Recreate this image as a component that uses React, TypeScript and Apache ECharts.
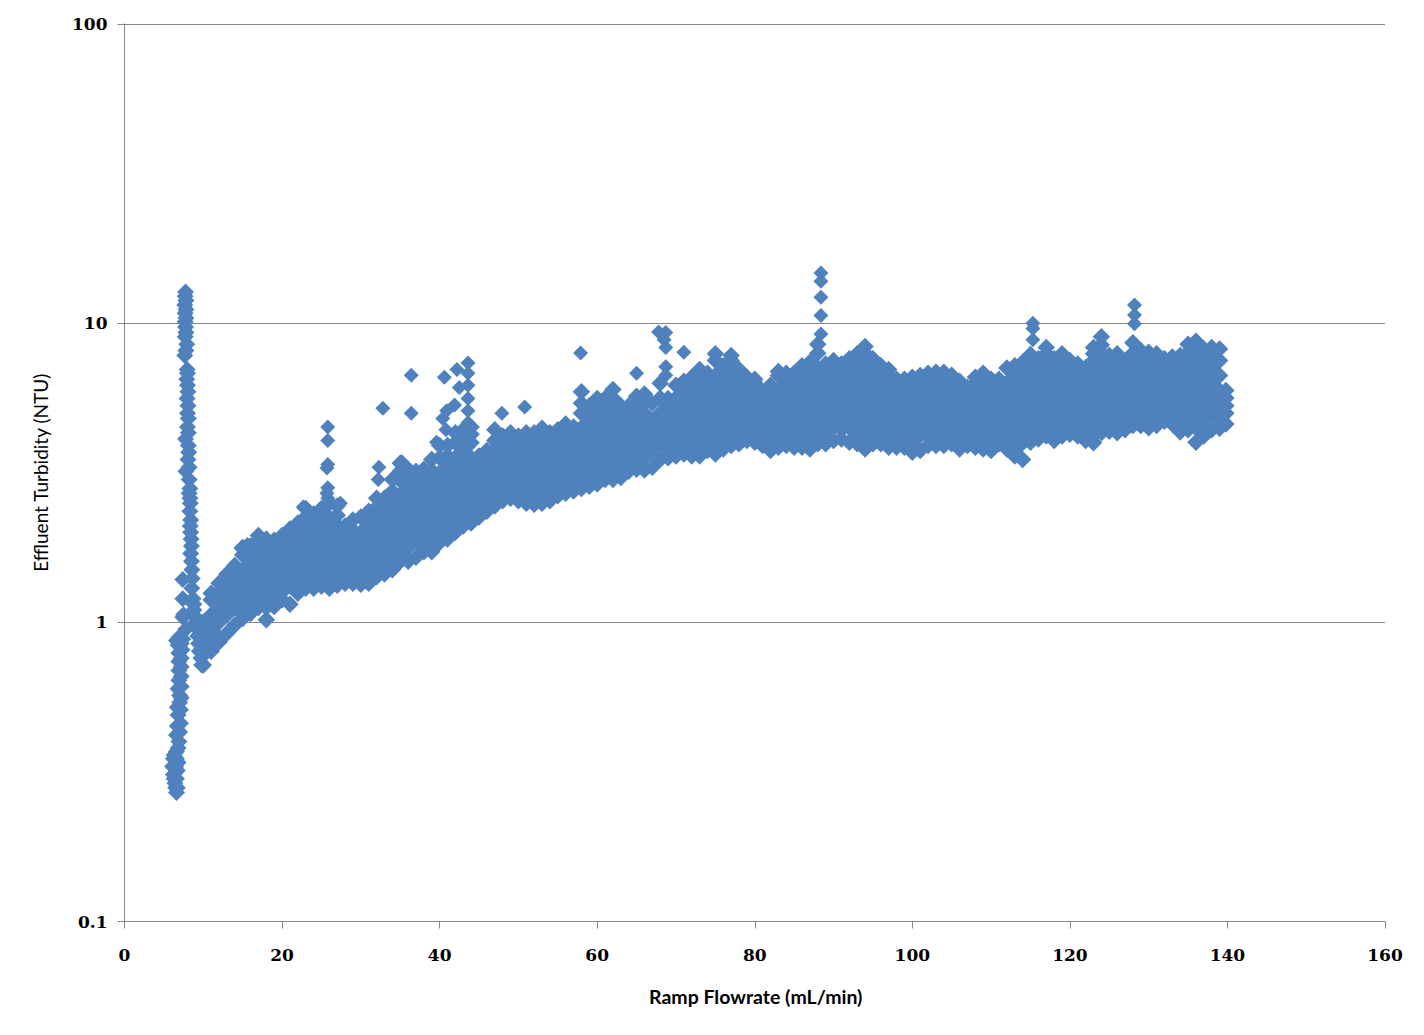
import React, { useEffect, useRef } from "react";
import * as echarts from "echarts";

const xTicks = [0, 20, 40, 60, 80, 100, 120, 140, 160];
const xAxisTitle = "Ramp Flowrate (mL/min)";
const yAxisTitle = "Effluent Turbidity (NTU)";

// Start-up leg: [flowrate, turbidity]
const riseLow: number[][] = [
  [6.6,.27],[6.5,.28],[6.4,.29],[6.7,.28],[6.3,.3],[6.6,.3],[6.2,.31],[6.7,.32],[6.1,.33],[6.5,.33],[6.2,.35],[6.6,.35],[6.8,.34],[6.3,.36],[6.6,.37],
  [6.8,.38],[6.9,.4],[6.6,.42],[7,.43],[6.7,.45],[7.1,.46],[6.8,.49],[6.7,.52],[7.1,.51],[7,.54],[7,.57],[7.2,.56],[6.8,.6],[7.2,.61],[6.9,.64],[7.2,.66],[6.9,.69],[7.2,.71],[6.9,.74],[7.2,.76],[6.9,.79],[7.3,.81],[6.8,.84],[7.2,.85],[6.6,.87],[7.4,.88],[6.9,.89],
  [7.4,1.04],[7.5,1.06],[7.4,1.2],[7.4,1.39],[7.8,.95],
];

// Spike down from the peak
const spike: number[][] = [
  [7.75,12.7],[7.7,12.3],[7.8,11.9],[7.65,11.5],[7.8,11.1],[7.7,10.8],[7.8,10.4],[7.7,10.1],[7.75,9.7],[7.8,9.3],[7.7,9],[7.9,8.5],[7.8,8.1],[7.65,7.8],
  [7.95,7],[8,6.8],[7.9,6.5],[8,6.2],[8.05,5.9],[7.95,5.6],[8.05,5.3],[8,5],[8.1,4.8],[8,4.5],[8.1,4.3],[7.75,4.1],[8.1,3.9],[8.15,3.7],[8.05,3.5],[8.2,3.3],[7.8,3.2],[8.2,3],[8.3,2.8],[8.2,2.7],[8.3,2.6],[8.35,2.5],[8.3,2.35],[8.4,2.2],[8.35,2.1],[8.4,2],[8.45,1.9],[8.5,1.8],[8.4,1.7],[8.5,1.6],[8.55,1.5],[8.6,1.4],[8.55,1.3],[8.7,1.2],[8.8,1.15],[8.8,1.1],[8.9,1.05],[9,1],[9.1,.96],[9.3,.9],[9.4,.85],[9.5,.8],[9.7,.76],[9.8,.72],
];

// Main band: each row is a flowrate followed by the turbidity readings at it
const band: number[][] = [
  [10,.72,.79,.89,1.0],
  [11,.8,.84,.94,1.06,1.19,1.25],
  [12,.86,.89,1,1.12,1.26,1.35],
  [13,.92,1.06,1.19,1.33,1.45],
  [14,.98,1.12,1.26,1.41,1.55],
  [15,1.03,1.06,1.19,1.33,1.5,1.68,1.78],
  [16,1.07,1.12,1.26,1.41,1.58,1.8],
  [17,1.12,1.19,1.33,1.5,1.68,1.88,1.95],
  [18,1.02,1.12,1.26,1.41,1.58,1.78,1.9],
  [19,1.13,1.19,1.33,1.5,1.68,1.88],
  [20,1.19,1.26,1.41,1.58,1.78,1.95],
  [21,1.15,1.33,1.5,1.68,1.88,2.05],
  [22,1.25,1.41,1.58,1.78,2,2.15],
  [23,1.3,1.33,1.5,1.68,1.88,2.11,2.25,2.4],
  [24,1.3,1.41,1.58,1.78,2,2.15,2.3],
  [25,1.32,1.5,1.68,1.88,2.11,2.25,2.4],
  [26,1.3,1.41,1.58,1.78,2,2.24,2.5],
  [27,1.33,1.5,1.68,1.88,2.11,2.28,2.45],
  [28,1.35,1.41,1.58,1.78,2,2.1],
  [29,1.35,1.5,1.68,1.88,2.03,2.2],
  [30,1.34,1.41,1.58,1.78,2,2.25],
  [31,1.35,1.5,1.68,1.88,2.11,2.35],
  [32,1.42,1.58,1.78,2,2.24,2.42,2.6],
  [33,1.45,1.5,1.68,1.88,2.11,2.37,2.6],
  [34,1.5,1.58,1.78,2,2.24,2.51,2.74,3],
  [35,1.6,1.68,1.88,2.11,2.37,2.66,2.98,3.2,3.4],
  [36,1.6,1.78,2,2.24,2.51,2.82,3.05,3.25],
  [37,1.65,1.88,2.11,2.37,2.66,2.98,3.2],
  [38,1.72,1.78,2,2.24,2.51,2.82,3.03,3.25],
  [39,1.72,1.88,2.11,2.37,2.66,2.98,3.22,3.5],
  [40,1.85,2,2.24,2.51,2.82,3.16,3.55,3.9],
  [41,1.9,2.11,2.37,2.66,2.98,3.35,3.6,3.9],
  [42,2,2.24,2.51,2.82,3.16,3.55,3.98,4.3],
  [43,2.1,2.37,2.66,2.98,3.35,3.76,4.05,4.4],
  [44,2.15,2.24,2.51,2.82,3.16,3.55,3.98,4.25,4.5],
  [45,2.25,2.37,2.66,2.98,3.35,3.6],
  [46,2.35,2.51,2.82,3.16,3.55,3.75],
  [47,2.45,2.66,2.98,3.35,3.76,4.05,4.4],
  [48,2.55,2.82,3.16,3.55,3.98,4.2],
  [49,2.6,2.66,2.98,3.35,3.76,4.05,4.3],
  [50,2.55,2.82,3.16,3.55,3.98,4.2],
  [51,2.5,2.66,2.98,3.35,3.76,4.05,4.3],
  [52,2.48,2.82,3.16,3.55,3.98,4.3],
  [53,2.5,2.66,2.98,3.35,3.76,4.22,4.45],
  [54,2.55,2.82,3.16,3.55,3.98,4.3],
  [55,2.65,2.98,3.35,3.76,4.07,4.4],
  [56,2.7,2.82,3.16,3.55,3.98,4.27,4.6],
  [57,2.75,2.98,3.35,3.76,4.22,4.5],
  [58,2.8,3.16,3.55,3.98,4.47,5,5.4,5.9],
  [59,2.85,2.98,3.35,3.76,4.22,4.73,5.3],
  [60,2.9,3.16,3.55,3.98,4.47,5,5.6],
  [61,3,3.35,3.76,4.22,4.73,5.31,5.6],
  [62,3,3.16,3.55,3.98,4.47,5,5.62,6],
  [63,3.05,3.35,3.76,4.22,4.73,5.3],
  [64,3.2,3.55,3.98,4.47,5,5.3],
  [65,3.25,3.35,3.76,4.22,4.73,5.31,5.7],
  [66,3.23,3.55,3.98,4.47,5,5.4,5.8],
  [67,3.3,3.76,4.22,4.73,5.4],
  [68,3.5,3.98,4.47,5,5.62,6.3],
  [69,3.55,3.76,4.22,4.73,5.31,5.6],
  [70,3.6,3.98,4.47,5,5.62,6.2],
  [71,3.65,3.76,4.22,4.73,5.31,5.96,6.4],
  [72,3.6,3.98,4.47,5,5.62,6.31,6.6],
  [73,3.6,3.76,4.22,4.73,5.31,5.96,6.68,7],
  [74,3.75,3.98,4.47,5,5.62,6.31,6.8],
  [75,3.65,3.76,4.22,4.73,5.31,5.96,6.68,7.5,7.9],
  [76,3.8,3.98,4.47,5,5.62,6.31,7.08,7.2],
  [77,3.9,4.22,4.73,5.31,5.96,6.68,7.5,7.8],
  [78,3.95,4.47,5,5.62,6.31,7],
  [79,4.05,4.22,4.73,5.31,5.96,6.6],
  [80,4,4.47,5,5.62,6.31,6.5],
  [81,3.9,4.22,4.73,5.31,5.9],
  [82,3.75,3.98,4.47,5,5.62,6.2],
  [83,3.85,4.22,4.73,5.31,5.96,6.68,6.9],
  [84,3.9,3.98,4.47,5,5.62,6.31,6.8],
  [85,3.85,4.22,4.73,5.31,5.96,6.68,6.8],
  [86,3.85,3.98,4.47,5,5.62,6.31,7.08,7.2],
  [87,3.8,4.22,4.73,5.31,5.96,6.68,7.4],
  [88,3.95,4.47,5,5.62,6.31,7.08,7.94,8.5],
  [89,3.95,4.22,4.73,5.31,5.96,6.68,7.3],
  [90,4.05,4.47,5,5.62,6.31,7.08,7.5],
  [91,4.1,4.4,4.73,5.31,5.96,6.68,7.3],
  [92,4,4.47,5,5.62,6.31,7.08,7.6],
  [93,3.95,4.22,4.73,5.31,5.96,6.68,7.5,7.9],
  [94,3.8,3.98,4.47,5,5.62,6.31,7.08,7.94,8.35],
  [95,3.95,4.22,4.73,5.31,5.96,6.68,7.5,7.6],
  [96,3.95,4.47,5,5.62,6.31,7.08,7.2],
  [97,3.85,4.22,4.73,5.31,5.96,6.68,7],
  [98,3.85,3.98,4.47,5,5.62,6.31,6.5],
  [99,3.85,4.22,4.73,5.31,5.96,6.5],
  [100,3.7,3.98,4.47,5,5.62,6.31,6.6],
  [101,3.75,4.22,4.73,5.31,5.96,6.68],
  [102,3.9,4.2,4.47,5,5.62,6.31,6.8],
  [103,3.9,4.22,4.73,5.31,5.96,6.68,6.85],
  [104,3.9,4.2,4.47,5,5.62,6.31,6.85],
  [105,3.95,4.22,4.73,5.31,5.96,6.7],
  [106,3.8,3.98,4.47,5,5.62,6.31,6.4],
  [107,3.9,4.22,4.73,5.31,5.96,6.1],
  [108,3.85,3.98,4.47,5,5.62,6.31,6.6],
  [109,3.8,4.22,4.73,5.31,5.96,6.68,6.8],
  [110,3.75,3.98,4.47,5,5.62,6.31,6.5],
  [111,3.95,4.22,4.73,5.31,5.96,6.5],
  [112,3.8,3.98,4.47,5,5.62,6.31,7.08],
  [113,3.6,3.76,4.22,4.73,5.31,5.96,6.68,7.2],
  [114,3.5,3.98,4.47,5,5.62,6.31,7.08,7.4],
  [115,4,4.22,4.73,5.31,5.96,6.68,7.5,7.85],
  [116,4.1,4.47,5,5.62,6.31,7.08,7.6],
  [117,4.2,4.73,5.31,5.96,6.68,7.5,7.9,8.3],
  [118,4.05,4.47,5,5.62,6.31,7.08,7.6],
  [119,4.2,4.73,5.31,5.96,6.68,7.5,7.9],
  [120,4.25,4.47,5,5.62,6.31,7.08,7.5],
  [121,4.2,4.73,5.31,5.96,6.68,7.3],
  [122,4.05,4.47,5,5.62,6.31,7.1],
  [123,3.98,4.22,4.73,5.31,5.96,6.68,7.5,7.9,8.3],
  [124,4.3,4.47,5,5.62,6.31,7.08,7.94,8.45,9],
  [125,4.35,4.73,5.31,5.96,6.68,7.5,7.8],
  [126,4.3,4.47,5,5.62,6.31,7.08,7.9],
  [127,4.4,4.73,5.31,5.96,6.68,7.4],
  [128,4.55,5,5.62,6.31,7.08,7.94,8.6],
  [129,4.55,4.73,5.31,5.96,6.68,7.5,8.1],
  [130,4.47,5,5.62,6.31,7.08,7.94,8],
  [131,4.55,4.73,5.31,5.96,6.68,7.5,7.9],
  [132,4.7,5,5.62,6.31,7.08,7.6],
  [133,4.6,4.73,5.31,5.96,6.68,7.5,7.7],
  [134,4.33,4.47,5,5.62,6.31,7.08,7.8],
  [135,4.4,4.73,5.31,5.96,6.68,7.5,8,8.5],
  [136,4,4.47,5,5.62,6.31,7.08,7.94,8.7],
  [137,4.2,4.73,5.31,5.96,6.68,7.5,8.2],
  [138,4.4,5,5.62,6.31,7.08,7.94,8.3],
  [139,4.45,4.73,5.31,5.96,6.68,7.5,8.2],
  [139.8,4.6,5,5.3,5.62,5.96],
];

// Readings that stand clear of the band
const outliers: number[][] = [
  [14.8,1.77],[15.6,1.82],[22.7,2.43],[23.5,2.34],[27.4,2.5],
  [25.8,4.5],[25.8,4.05],[25.8,3.37],[25.7,3.28],[25.8,2.82],[25.7,2.7],[25.8,2.6],
  [32.8,5.2],[32.3,3.3],[32.2,3],
  [36.4,6.7],[36.4,5],[35.2,3.44],
  [40.6,6.6],[42.2,7],[43.6,7.36],[43.6,6.8],[42.5,6.1],[43.6,6.2],[43.6,5.6],[43.6,5.1],[43.6,4.65],
  [41.9,5.33],[40.9,5.1],[40.4,4.8],[40.8,4.4],[39.6,4],
  [47.9,5],[50.8,5.25],[57.9,7.95],[65,6.8],
  [67.8,9.35],[68.7,9.3],[68.5,8.8],[68.7,8.3],[68.7,7.15],[68.7,6.7],[71,8],
  [88.4,14.7],[88.4,13.8],[88.4,12.2],[88.4,10.6],[88.4,9.2],
  [115.3,10],[115.3,9.6],[115.3,8.8],[128.2,11.5],[128.2,10.65],[128.2,9.95],
];

const bandPoints = band.flatMap(([x, ...ys]) => ys.map((y) => [x, y]));

const AXIS = "#868686";
const MARK = "#4F81BD";
const tickFont = { color: "#000", fontFamily: "DejaVu Serif", fontWeight: "bold" as const, fontSize: 17 };

const markSeries = (data: number[][], symbolSize: number) => ({
  type: "scatter",
  symbol: "diamond",
  symbolSize,
  itemStyle: { color: MARK, opacity: 1 },
  data,
  silent: true,
  large: false,
  progressive: 0,
  clip: false,
});

export default function App() {
  const ref = useRef<HTMLDivElement>(null);
  useEffect(() => {
    const chart = echarts.init(ref.current!, undefined, { renderer: "svg" });
    chart.setOption({
      animation: false,
      backgroundColor: "#fff",
      grid: { left: 124.5, right: 39, top: 24, bottom: 113.5, containLabel: false },
      xAxis: {
        type: "value",
        min: 0,
        max: 160,
        interval: 20,
        name: xAxisTitle,
        nameLocation: "middle",
        nameGap: 65,
        nameTextStyle: { fontFamily: "Lato", fontWeight: "bold", fontSize: 19.5, color: "#000", padding: [0, 0, 0, 2] },
        axisLine: { show: true, onZero: false, lineStyle: { color: AXIS, width: 1 } },
        axisTick: { show: true, length: 7, lineStyle: { color: AXIS } },
        axisLabel: { ...tickFont, margin: 25, formatter: (v: number) => (xTicks.includes(v) ? String(v) : "") },
        splitLine: { show: false },
      },
      yAxis: {
        type: "log",
        logBase: 10,
        min: 0.1,
        max: 100,
        name: yAxisTitle,
        nameLocation: "middle",
        nameGap: 75,
        nameRotate: 90,
        nameTextStyle: { fontFamily: "Lato", fontWeight: "normal", fontSize: 19, color: "#000" },
        axisLine: { show: true, lineStyle: { color: AXIS, width: 1 } },
        axisTick: { show: true, length: 7, lineStyle: { color: AXIS } },
        axisLabel: { ...tickFont, margin: 17 },
        minorTick: { show: false },
        splitLine: { show: true, lineStyle: { color: AXIS, width: 1 } },
      },
      series: [
        markSeries(riseLow, 17),
        markSeries(spike, 17),
        markSeries(bandPoints, 17.5),
        markSeries(outliers, 15),
      ],
    });
    return () => chart.dispose();
  }, []);
  return (
    <div
      ref={ref}
      style={{ position: "absolute", left: 0, top: 0, width: 1424, height: 1035, background: "#fff" }}
    />
  );
}
